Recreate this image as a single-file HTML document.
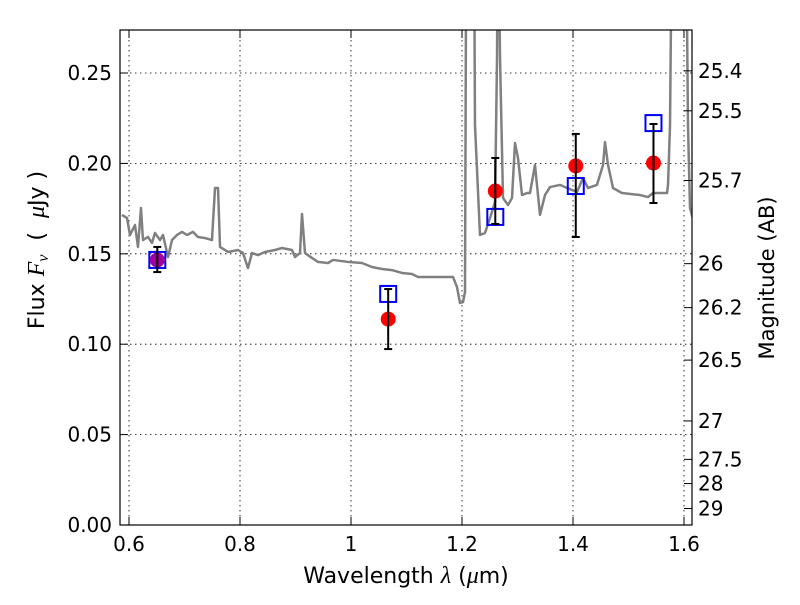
<!DOCTYPE html>
<html><head><meta charset="utf-8">
<style>
body{margin:0;background:#fff;}
svg text{font-family:"DejaVu Sans","Liberation Sans",sans-serif;}
</style></head>
<body>
<svg id="chart" width="800" height="600" xmlns="http://www.w3.org/2000/svg">
<rect width="800" height="600" fill="#fff"/>
<defs><clipPath id="clip"><rect x="120" y="30" width="572" height="495"/></clipPath></defs>
<g id="grid"></g>
<g id="spec" clip-path="url(#clip)"></g>
<g id="marks"></g>
<rect x="120" y="30" width="572" height="495" fill="none" stroke="#000" stroke-width="1.2"/>
<g id="axes"></g>
<text x="406" y="583" text-anchor="middle" font-size="22">Wavelength  <tspan font-style="italic" font-family="Liberation Serif" font-size="24">λ</tspan> (<tspan font-style="italic" font-family="Liberation Serif" font-size="24">μ</tspan>m)</text>
<text transform="translate(44,250) rotate(-90)" text-anchor="middle" font-size="22">Flux  <tspan font-style="italic" font-family="Liberation Serif" font-size="24">F</tspan><tspan font-style="italic" font-family="Liberation Serif" font-size="16" dy="4">ν</tspan><tspan dy="-4" xml:space="preserve">  (  </tspan><tspan font-style="italic" font-family="Liberation Serif" font-size="24">μ</tspan>Jy )</text>
<text transform="translate(774,278) rotate(-90)" text-anchor="middle" font-size="21">Magnitude (AB)</text>
</svg>
<script>
const specLam=[0.5874,0.5964,0.6018,0.6108,0.6162,0.6216,0.6252,0.6342,0.6414,0.6468,0.6559,0.6613,0.6703,0.6775,0.6865,0.6955,0.7045,0.7153,0.7243,0.7369,0.7495,0.7550,0.7604,0.7640,0.7784,0.7964,0.8054,0.8144,0.8216,0.8324,0.8450,0.8631,0.8757,0.8937,0.8991,0.9081,0.9117,0.9171,0.9297,0.9405,0.9586,0.9676,0.9946,1.0198,1.0378,1.0559,1.0739,1.0919,1.1099,1.1207,1.1387,1.1748,1.1838,1.1910,1.1964,1.2018,1.2054,1.2090,1.2198,1.2234,1.2324,1.2414,1.2505,1.2595,1.2631,1.2649,1.2685,1.2739,1.2829,1.2901,1.2955,1.3009,1.3081,1.3171,1.3225,1.3315,1.3405,1.3495,1.3586,1.3766,1.3892,1.4072,1.4180,1.4270,1.4432,1.4541,1.4577,1.4631,1.4721,1.4883,1.5207,1.5351,1.5441,1.5694,1.5712,1.5748,1.5802,1.6018,1.6072,1.6108,1.6200];
const specFlux=[0.1715,0.1698,0.1604,0.1659,0.1538,0.1753,0.1576,0.1593,0.1560,0.1615,0.1576,0.1604,0.1482,0.1576,0.1604,0.1621,0.1604,0.1621,0.1593,0.1587,0.1576,0.1864,0.1864,0.1538,0.1510,0.1521,0.1504,0.1421,0.1504,0.1493,0.1510,0.1521,0.1532,0.1521,0.1482,0.1504,0.1720,0.1504,0.1477,0.1455,0.1449,0.1466,0.1455,0.1449,0.1427,0.1416,0.1410,0.1394,0.1388,0.1372,0.1372,0.1372,0.1372,0.1316,0.1228,0.1233,0.1289,0.4500,0.4500,0.2212,0.1604,0.1615,0.1698,0.1786,0.2583,0.3500,0.2583,0.1809,0.1770,0.1809,0.2113,0.2030,0.1825,0.1836,0.1836,0.1991,0.1715,0.1825,0.1869,0.1881,0.1864,0.1842,0.1919,0.1864,0.1881,0.1991,0.2118,0.1991,0.1864,0.1836,0.1825,0.1814,0.1836,0.1836,0.1881,0.2212,0.4000,0.4000,0.2212,0.1753,0.1650];
const obsLam=[0.651,1.067,1.260,1.405,1.545];
const obsFlux=[0.1466,0.1139,0.1847,0.1986,0.2002];
const obsErrLo=[0.1399,0.0973,0.1665,0.1593,0.1781];
const obsErrHi=[0.1538,0.1305,0.2030,0.2163,0.2218];
const modelFlux=[0.1466,0.1278,0.1704,0.1875,0.2223];
const xTicks=[0.6,0.8,1.0,1.2,1.4,1.6];
const xTickLabels=["0.6","0.8","1","1.2","1.4","1.6"];
const yTicks=[0,0.05,0.10,0.15,0.20,0.25];
const yTickLabels=["0.00","0.05","0.10","0.15","0.20","0.25"];
const magTicks=[25.4,25.5,25.7,26,26.2,26.5,27,27.5,28,29];
const magLabels=["25.4","25.5","25.7","26","26.2","26.5","27","27.5","28","29"];

const NS="http://www.w3.org/2000/svg";
const X=l=>129+(l-0.6)*555;
const Y=f=>525-f*1808;
function mk(tag,attrs,parent){const e=document.createElementNS(NS,tag);for(const k in attrs)e.setAttribute(k,attrs[k]);parent.appendChild(e);return e;}
const grid=document.getElementById('grid'),axes=document.getElementById('axes');
xTicks.forEach((t,i)=>{
  const x=X(t);
  const g=mk('line',{x1:x,x2:x,y1:30,y2:525,stroke:'#000','stroke-width':0.8,'stroke-dasharray':'1.5,3.5'},grid);
  
  
  mk('line',{x1:x,x2:x,y1:525,y2:517,stroke:'#000'},axes);
  mk('line',{x1:x,x2:x,y1:30,y2:38,stroke:'#000'},axes);
  const tx=mk('text',{x:x,y:551,'text-anchor':'middle','font-size':20},axes);
  tx.textContent=xTickLabels[i];
  
  
});
yTicks.forEach((t,i)=>{
  const y=Y(t);
  const g=mk('line',{x1:120,x2:692,y1:y,y2:y,stroke:'#000','stroke-width':0.8,'stroke-dasharray':'1.5,3.5'},grid);
  
  
  mk('line',{x1:120,x2:128,y1:y,y2:y,stroke:'#000'},axes);
  const tx=mk('text',{x:112,y:y+7,'text-anchor':'end','font-size':20},axes);
  tx.textContent=yTickLabels[i];
  
  
});
magTicks.forEach((m,i)=>{
  const y=Y(Math.pow(10,(23.9-m)/2.5));
  mk('line',{x1:684,x2:692,y1:y,y2:y,stroke:'#000'},axes);
  const tx=mk('text',{x:698,y:y+7,'font-size':20},axes);
  tx.textContent=magLabels[i];
  
  
});
const spec=document.getElementById('spec');
const p=mk('polyline',{points:specLam.map((l,i)=>X(l)+','+Y(specFlux[i])).join(' '),fill:'none',stroke:'#808080','stroke-width':2.5,'stroke-linejoin':'round'},spec);


const marks=document.getElementById('marks');
obsLam.forEach((l,i)=>{
  const x=X(l);
  const s=mk('rect',{x:x-8,y:Y(modelFlux[i])-8,width:16,height:16,fill:'none',stroke:'#0000ff','stroke-width':2},marks);
  
  
  const c=mk('circle',{cx:x,cy:Y(obsFlux[i]),r:7.5,fill:i===0?'#a000a0':'#ff0000'},marks);
  
  
  const e=mk('g',{stroke:'#000','stroke-width':2},marks);
  
  
  const y1=Y(obsErrLo[i]),y2=Y(obsErrHi[i]);
  mk('line',{x1:x,x2:x,y1:y1,y2:y2},e);
  mk('line',{x1:x-4,x2:x+4,y1:y1,y2:y1},e);
  mk('line',{x1:x-4,x2:x+4,y1:y2,y2:y2},e);
});
</script>
</body></html>
